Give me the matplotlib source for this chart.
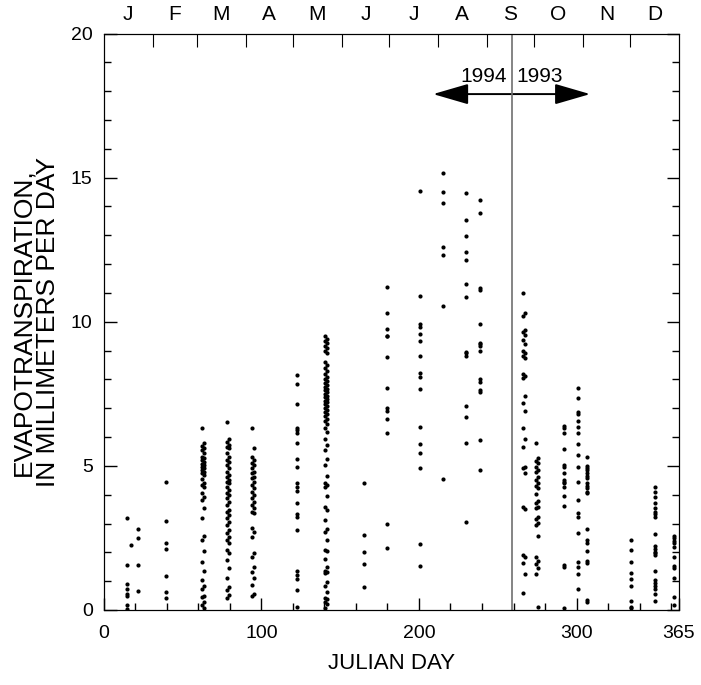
import numpy as np
import matplotlib
matplotlib.use('Agg')
import matplotlib.pyplot as plt
from matplotlib.patches import FancyArrowPatch

plt.rcParams['font.family'] = ['Liberation Sans', 'DejaVu Sans']

# evapotranspiration readings, mm/day, one list per sampling period (julian day)
d015 = [3.20, 1.56, 0.90, 0.73, 0.55, 0.49, 0.17, 0.03]
d017 = [2.25]
d022 = [2.81, 2.50, 1.56, 0.67]
d040 = [4.45, 3.09, 2.32, 2.13, 1.19, 0.64, 0.43]
d063 = [6.30, 5.78, 5.70, 5.62, 5.55, 5.45, 5.32, 5.26, 5.20, 5.15, 5.08, 5.03,
        4.97, 4.91, 4.85, 4.80, 4.74, 4.68, 4.55, 4.39, 4.34, 4.28, 4.05, 3.93,
        3.82, 3.53, 3.20, 2.58, 2.43, 2.05, 1.68, 1.35, 1.04, 0.84, 0.73, 0.50,
        0.44, 0.27, 0.17, 0.08]
d079 = [6.53, 5.95, 5.84, 5.72, 5.66, 5.61, 5.43, 5.32, 5.20, 5.15, 5.03, 4.91,
        4.80, 4.68, 4.62, 4.51, 4.45, 4.39, 4.28, 4.16, 4.05, 3.99, 3.87, 3.76,
        3.64, 3.47, 3.41, 3.30, 3.18, 3.06, 2.95, 2.77, 2.66, 2.54, 2.43, 2.31,
        2.08, 1.97, 1.73, 1.45, 1.10, 0.81, 0.69, 0.52, 0.40]
d095 = [6.30, 5.61, 5.32, 5.20, 5.09, 5.03, 4.91, 4.80, 4.74, 4.62, 4.57, 4.45,
        4.34, 4.22, 4.10, 3.99, 3.87, 3.76, 3.64, 3.53, 3.41, 3.35, 2.83, 2.72,
        2.54, 1.97, 1.85, 1.50, 1.33, 1.10, 0.87, 0.55, 0.50]
d122 = [8.17, 7.84, 7.15, 6.30, 6.24, 6.15, 5.78, 5.23, 4.97, 4.39, 4.28, 4.13,
        3.70, 3.32, 3.24, 2.76, 1.35, 1.21, 1.06, 0.69, 0.09]
d141 = [9.51, 9.40, 9.33, 9.25, 9.17, 9.08, 9.00, 8.92, 8.61, 8.50, 8.38, 8.29,
        8.18, 8.10, 8.02, 7.95, 7.88, 7.80, 7.74, 7.68, 7.62, 7.56, 7.50, 7.44,
        7.38, 7.32, 7.26, 7.20, 7.14, 7.08, 7.02, 6.95, 6.88, 6.80, 6.72, 6.64,
        6.55, 6.45, 6.30, 6.18, 5.95, 5.72, 5.55, 5.23, 5.03, 4.65, 4.42, 4.34,
        4.28, 3.97, 3.58, 3.47, 3.12, 2.82, 2.72, 2.43, 2.08, 2.05, 1.77, 1.50,
        1.37, 1.33, 1.27, 0.98, 0.84, 0.64, 0.40, 0.37, 0.29, 0.21, 0.06]
d165 = [4.39, 2.59, 2.02, 1.60, 0.79]
d180 = [11.19, 10.31, 9.76, 9.52, 9.50, 8.79, 7.69, 7.00, 6.90, 6.62, 6.13,
        2.97, 2.16]
d201 = [14.53, 10.89, 9.94, 9.83, 9.57, 9.33, 8.82, 8.24, 8.09, 7.67, 6.36,
        5.76, 5.46, 4.91, 2.29, 1.54]
d215 = [15.17, 14.50, 14.13, 12.60, 12.33, 10.55, 4.53]
d230 = [14.46, 13.53, 12.96, 12.41, 12.14, 11.31, 10.86, 8.96, 8.90, 8.82,
        7.09, 6.68, 5.79, 3.06]
d239 = [14.23, 13.78, 11.16, 11.10, 9.91, 9.27, 9.22, 9.17, 8.98, 8.00, 7.92,
        7.63, 7.57, 5.89, 4.87]
d267 = [11.01, 10.29, 10.21, 9.71, 9.63, 9.54, 9.37, 9.23, 8.99, 8.90, 8.82,
        8.75, 8.19, 8.12, 8.04, 7.43, 7.19, 6.89, 6.31, 5.95, 5.64, 4.97, 4.91,
        4.76, 3.58, 3.49, 1.90, 1.83, 1.62, 1.25, 0.60]
d275 = [5.78, 5.26, 5.18, 5.09, 4.97, 4.86, 4.80, 4.62, 4.51, 4.39, 4.30, 4.22,
        4.02, 3.79, 3.70, 3.56, 3.53, 3.24, 3.15, 3.03, 2.95, 2.58, 1.83, 1.71,
        1.58, 1.45, 1.25, 0.09]
d292 = [6.38, 6.30, 6.13, 5.58, 5.03, 4.97, 4.74, 4.51, 4.45, 4.39, 4.28, 3.95,
        3.61, 1.56, 1.48, 0.08]
d301 = [7.69, 7.34, 6.88, 6.79, 6.57, 6.36, 6.13, 5.76, 5.38, 4.95, 4.45, 3.82,
        3.35, 3.21, 2.66, 1.66, 1.50, 1.25, 0.74]
d307 = [5.32, 4.99, 4.91, 4.86, 4.74, 4.65, 4.57, 4.39, 4.30, 4.22, 4.10, 4.05,
        2.81, 2.43, 2.34, 2.06, 1.71, 1.64, 0.35, 0.27]
d335 = [2.43, 2.08, 1.66, 1.27, 1.08, 0.84, 0.32, 0.12, 0.06]
d350 = [4.28, 4.10, 3.93, 3.72, 3.53, 3.41, 3.33, 3.24, 2.62, 2.22, 2.12, 2.02,
        1.97, 1.91, 1.36, 1.04, 0.95, 0.84, 0.73, 0.54, 0.32]
d362 = [2.57, 2.49, 2.39, 2.31, 2.20, 1.83, 1.53, 1.47, 1.12, 0.46, 0.17]

days = [15, 17, 21.6, 39.8, 63, 79, 94.8, 122.5, 141, 165, 179.5, 200.6, 215.4,
        229.6, 238.7, 266.7, 275, 292, 301, 306.7, 334.6, 349.8, 362]
series = [d015, d017, d022, d040, d063, d079, d095, d122, d141, d165, d180, d201,
          d215, d230, d239, d267, d275, d292, d301, d307, d335, d350, d362]

month_edges = [31, 59, 90, 120, 151, 181, 212, 243, 273, 304, 334]
month_mid = [15.5, 45, 74.5, 105, 135.5, 166, 196.5, 227.5, 258, 288.5, 319, 349.5]
month_lbl = ['J', 'F', 'M', 'A', 'M', 'J', 'J', 'A', 'S', 'O', 'N', 'D']

fig = plt.figure(figsize=(7.01, 6.85), dpi=100)
ax = fig.add_axes([0.148, 0.1095, 0.8206, 0.8415])

for d, v in zip(days, series):
    x = np.full(len(v), float(d))
    if len(v) > 25:
        # dense periods span a couple of days, spread them a little
        x += np.where(np.arange(len(v)) % 2 == 0, -0.6, 0.6)
    ax.plot(x, v, 'o', color='black', markersize=3.0, markeredgewidth=0)

ax.set_xlim(0, 365)
ax.set_ylim(0, 20)

ax.set_xticks([0, 100, 200, 300, 365])
ax.set_xticks(np.arange(20, 365, 20), minor=True)
ax.set_yticks([0, 5, 10, 15, 20])
ax.set_yticks(np.arange(1, 20), minor=True)
ax.tick_params(which='both', direction='in', right=True, top=False,
               labelsize=14, width=1)
ax.tick_params(which='major', length=9)
ax.tick_params(which='minor', length=5)
ax.tick_params(axis='x', pad=11)
ax.tick_params(axis='y', pad=8)

ax.set_xlabel('JULIAN DAY', fontsize=16, labelpad=8)
ax.set_ylabel('EVAPOTRANSPIRATION,\nIN MILLIMETERS PER DAY', fontsize=19,
              labelpad=8, linespacing=1.0)

# month ticks across the top
ax2 = ax.twiny()
ax2.set_xlim(0, 365)
ax2.set_xticks(month_edges)
ax2.set_xticklabels([])
ax2.set_xticks(month_mid, minor=True)
ax2.set_xticklabels(month_lbl, minor=True)
ax2.tick_params(which='major', direction='in', length=9)
ax2.tick_params(which='minor', length=0, labelsize=15, pad=7)

# split between the two years
ax.axvline(258.8, color='#707070', linewidth=1.2)
arrow = FancyArrowPatch((209, 17.9), (308.6, 17.9),
                        arrowstyle='<|-|>,head_length=1.1,head_width=0.32',
                        mutation_scale=20, color='black', linewidth=1.4,
                        shrinkA=0, shrinkB=0)
ax.add_patch(arrow)
ax.text(255.5, 18.5, '1994', ha='right', va='center', fontsize=15)
ax.text(262, 18.5, '1993', ha='left', va='center', fontsize=15)

fig.savefig('out.png', dpi=100)
